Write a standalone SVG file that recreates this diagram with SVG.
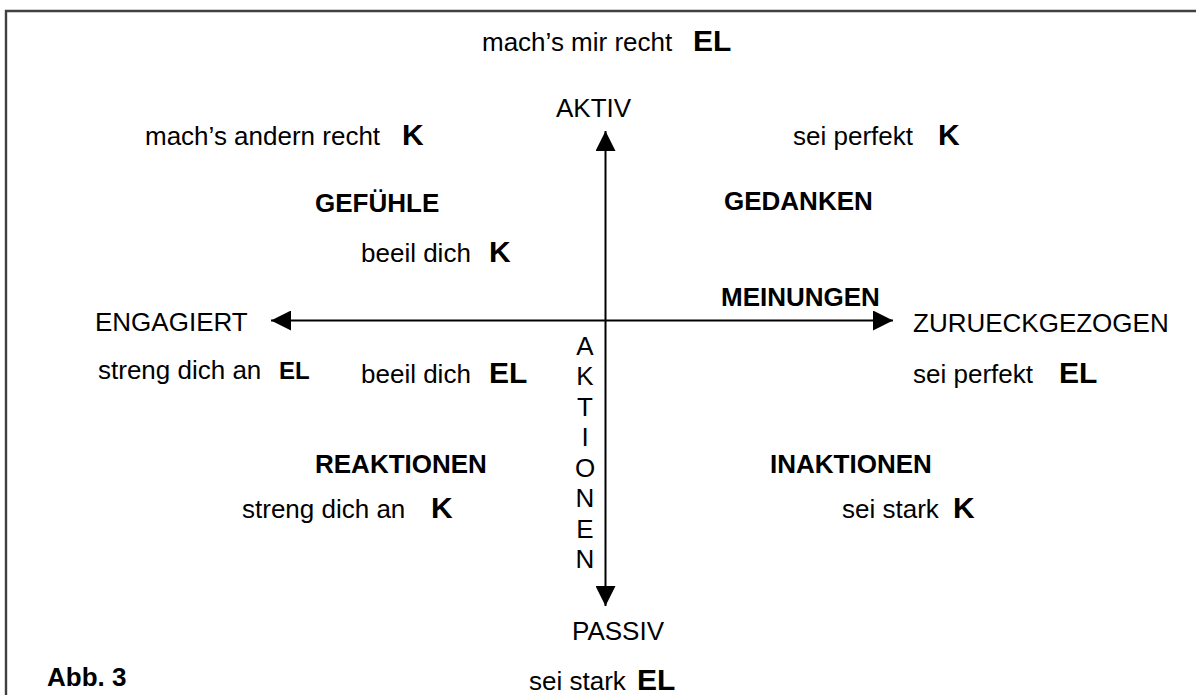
<svg xmlns="http://www.w3.org/2000/svg" width="1196" height="695" viewBox="0 0 1196 695">
<defs>
<style>
text{font-family:"Liberation Sans",Arial,Helvetica,sans-serif;fill:#000;}
.r{font-size:26px;}
.b{font-size:26px;font-weight:bold;}
.big{font-size:30px;font-weight:bold;}
.sm{font-size:24px;font-weight:bold;}
.axis{stroke:#000;stroke-width:2;fill:none;}
.frame{stroke:#404040;stroke-width:2.4;fill:none;}
</style>
<marker id="arr" viewBox="0 0 20 20" refX="20" refY="10" markerWidth="20" markerHeight="20" markerUnits="userSpaceOnUse" orient="auto">
<path d="M0,0 L20,10 L0,20 z" fill="#000"/>
</marker>
</defs>
<rect width="1196" height="695" fill="#fff"/>
<path class="frame" d="M6,697 L6,11 L1198,11"/>
<g id="connectors">
<line class="axis" x1="605.5" y1="320.5" x2="605.5" y2="131" marker-end="url(#arr)"/>
<line class="axis" x1="605.5" y1="320.5" x2="605.5" y2="606" marker-end="url(#arr)"/>
<line class="axis" x1="605.5" y1="320.5" x2="271" y2="320.5" marker-end="url(#arr)"/>
<line class="axis" x1="605.5" y1="320.5" x2="893" y2="320.5" marker-end="url(#arr)"/>
</g>
<g id="top"><text class="r" x="482" y="51">mach’s mir recht</text><text class="big" x="693" y="51">EL</text></g>
<g id="aktiv"><text class="r" x="556" y="117">AKTIV</text></g>
<g id="passiv"><text class="r" x="572" y="640">PASSIV</text></g>
<g id="engagiert"><text class="r" x="95" y="331">ENGAGIERT</text></g>
<g id="zurueckgezogen"><text class="r" x="913" y="332">ZURUECKGEZOGEN</text></g>
<g id="q1a"><text class="r" x="145" y="145">mach’s andern recht</text><text class="big" x="402" y="145">K</text></g>
<g id="q2a"><text class="r" x="793" y="145">sei perfekt</text><text class="big" x="938" y="145">K</text></g>
<g id="gefuehle"><text class="b" x="315" y="212">GEFÜHLE</text></g>
<g id="gedanken"><text class="b" x="724" y="210">GEDANKEN</text></g>
<g id="q1b"><text class="r" x="361" y="262">beeil dich</text><text class="big" x="489" y="262">K</text></g>
<g id="meinungen"><text class="b" x="721" y="306">MEINUNGEN</text></g>
<g id="q3a"><text class="r" x="98" y="379">streng dich an</text><text class="sm" x="279" y="379">EL</text></g>
<g id="q3b"><text class="r" x="361" y="383">beeil dich</text><text class="big" x="489" y="383">EL</text></g>
<g id="q4a"><text class="r" x="913" y="383">sei perfekt</text><text class="big" x="1059" y="383">EL</text></g>
<g id="aktionen">
<text class="r" x="585" y="355" text-anchor="middle">A</text>
<text class="r" x="585" y="385" text-anchor="middle">K</text>
<text class="r" x="585" y="416" text-anchor="middle">T</text>
<text class="r" x="585" y="446" text-anchor="middle">I</text>
<text class="r" x="585" y="477" text-anchor="middle">O</text>
<text class="r" x="585" y="507" text-anchor="middle">N</text>
<text class="r" x="585" y="538" text-anchor="middle">E</text>
<text class="r" x="585" y="568" text-anchor="middle">N</text>
</g>
<g id="reaktionen"><text class="b" x="315" y="473">REAKTIONEN</text></g>
<g id="inaktionen"><text class="b" x="770" y="473">INAKTIONEN</text></g>
<g id="q3c"><text class="r" x="242" y="518">streng dich an</text><text class="big" x="431" y="518">K</text></g>
<g id="q4b"><text class="r" x="842" y="518">sei stark</text><text class="big" x="953" y="518">K</text></g>
<g id="bottom"><text class="r" x="529" y="690">sei stark</text><text class="big" x="637" y="690">EL</text></g>
<g id="abb"><text class="b" x="47" y="686">Abb. 3</text></g>
</svg>
